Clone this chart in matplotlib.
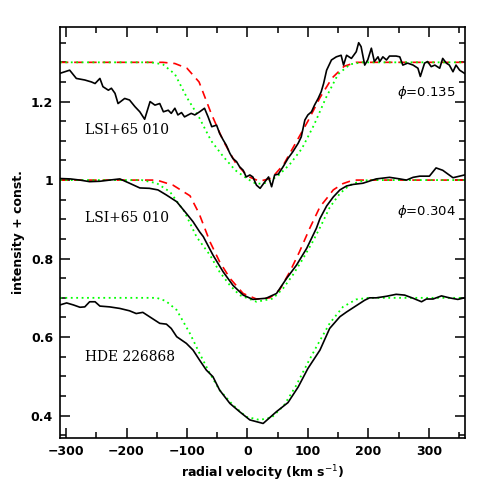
import matplotlib
matplotlib.use("Agg")
import matplotlib.pyplot as plt
from matplotlib.ticker import MultipleLocator

# ---- phase 0.135 (offset +0.3) ----
v_obs1 = [-310, -294, -283, -269, -258, -252, -244, -239, -230, -225, -219, -214, -203, -195, -186, -178, -170,
          -161, -153, -145, -139, -131, -126, -120, -115, -109, -104, -98, -93, -87, -79, -71, -65, -59, -51,
          -46, -40, -35, -29, -24, -18, -13, -7, -2, 4, 9, 15, 21, 29, 35, 40, 45, 51, 59, 67, 75, 84, 89, 95,
          100, 106, 111, 117, 122, 126, 131, 139, 147, 155, 159, 164, 172, 180, 184, 188, 194, 199, 205, 210,
          216, 219, 224, 230, 235, 246, 252, 257, 265, 274, 282, 286, 293, 298, 304, 310, 318, 323, 329, 334,
          340, 345, 351, 359]
i_obs1 = [1.272, 1.280, 1.259, 1.255, 1.250, 1.246, 1.259, 1.238, 1.229, 1.234, 1.221, 1.195, 1.208, 1.204,
          1.187, 1.174, 1.155, 1.200, 1.191, 1.195, 1.174, 1.178, 1.170, 1.183, 1.166, 1.172, 1.161, 1.166,
          1.170, 1.166, 1.174, 1.183, 1.161, 1.136, 1.140, 1.119, 1.102, 1.089, 1.068, 1.055, 1.047, 1.034,
          1.025, 1.008, 1.013, 1.008, 0.987, 0.979, 0.996, 1.008, 0.983, 1.013, 1.015, 1.034, 1.055, 1.072,
          1.094, 1.110, 1.153, 1.166, 1.174, 1.191, 1.208, 1.225, 1.246, 1.280, 1.306, 1.314, 1.318, 1.293,
          1.318, 1.310, 1.327, 1.350, 1.340, 1.293, 1.306, 1.336, 1.302, 1.314, 1.302, 1.314, 1.306, 1.316,
          1.316, 1.314, 1.293, 1.298, 1.293, 1.285, 1.264, 1.298, 1.302, 1.289, 1.293, 1.285, 1.310, 1.298,
          1.293, 1.276, 1.293, 1.280, 1.272]
v_grn1 = [-310, -160, -140, -120, -100, -80, -60, -40, -20, 0, 15, 30, 50, 70, 90, 110, 130, 150, 170, 190, 360]
i_grn1 = [1.3, 1.3, 1.295, 1.27, 1.21, 1.16, 1.10, 1.06, 1.025, 1.003, 0.99, 0.993, 1.01, 1.04, 1.08, 1.14,
          1.21, 1.27, 1.295, 1.3, 1.3]
v_red1 = [-310, -140, -120, -100, -80, -60, -40, -20, 0, 20, 40, 60, 80, 100, 120, 140, 160, 180, 360]
i_red1 = [1.3, 1.3, 1.297, 1.285, 1.25, 1.17, 1.10, 1.045, 1.01, 0.997, 1.005, 1.04, 1.095, 1.15, 1.21, 1.26,
          1.29, 1.3, 1.3]

# ---- phase 0.304 (no offset) ----
v_obs2 = [-310, -293, -277, -261, -244, -228, -211, -195, -178, -162, -148, -134, -117, -101, -90, -79, -73,
          -57, -40, -24, -7, 9, 31, 48, 65, 81, 98, 114, 120, 131, 142, 153, 164, 175, 191, 213, 235, 252, 263,
          274, 285, 301, 312, 323, 340, 359]
i_obs2 = [1.004, 1.003, 1.000, 0.996, 0.997, 1.000, 1.003, 0.992, 0.980, 0.979, 0.975, 0.962, 0.945, 0.915,
          0.894, 0.868, 0.856, 0.809, 0.766, 0.732, 0.707, 0.696, 0.699, 0.711, 0.750, 0.783, 0.826, 0.877,
          0.902, 0.934, 0.957, 0.975, 0.985, 0.989, 0.992, 1.003, 1.007, 1.003, 1.000, 1.007, 1.010, 1.010,
          1.031, 1.025, 1.006, 1.013]
v_grn2 = [-310, -175, -150, -128, -104, -84, -62, -46, -29, -13, 15, 42, 59, 75, 92, 108, 122, 136, 153, 169,
          186, 200, 360]
i_grn2 = [1.0, 1.0, 0.992, 0.97, 0.919, 0.855, 0.809, 0.766, 0.732, 0.707, 0.690, 0.698, 0.724, 0.758, 0.800,
          0.843, 0.885, 0.930, 0.966, 0.987, 0.997, 1.0, 1.0]
v_red2 = [-310, -150, -123, -95, -80, -62, -46, -29, -7, 15, 37, 53, 70, 86, 103, 120, 131, 142, 158, 175, 360]
i_red2 = [1.0, 1.0, 0.987, 0.96, 0.915, 0.843, 0.792, 0.750, 0.711, 0.697, 0.700, 0.720, 0.766, 0.817, 0.877,
          0.932, 0.953, 0.975, 0.991, 1.0, 1.0]

# ---- HDE 226868 (offset -0.3) ----
v_obs3 = [-310, -299, -288, -277, -269, -261, -252, -244, -228, -211, -195, -184, -173, -162, -145, -134, -126,
          -117, -101, -90, -79, -68, -57, -46, -29, -13, 4, 26, 48, 67, 84, 100, 120, 136, 153, 164, 177, 194,
          202, 213, 230, 246, 260, 274, 288, 296, 307, 321, 334, 348, 359]
i_obs3 = [0.682, 0.687, 0.682, 0.676, 0.677, 0.690, 0.690, 0.679, 0.677, 0.673, 0.667, 0.660, 0.663, 0.652,
          0.635, 0.633, 0.622, 0.601, 0.584, 0.567, 0.541, 0.516, 0.499, 0.465, 0.431, 0.410, 0.389, 0.380,
          0.410, 0.433, 0.473, 0.520, 0.567, 0.622, 0.652, 0.664, 0.677, 0.694, 0.700, 0.700, 0.704, 0.709,
          0.707, 0.699, 0.690, 0.697, 0.697, 0.705, 0.700, 0.696, 0.700]
v_grn3 = [-310, -150, -135, -117, -95, -79, -62, -46, -24, -2, 20, 40, 60, 80, 100, 114, 136, 158, 180, 200, 360]
i_grn3 = [0.70, 0.70, 0.692, 0.669, 0.609, 0.558, 0.507, 0.465, 0.427, 0.397, 0.389, 0.395, 0.425, 0.475,
          0.535, 0.575, 0.635, 0.677, 0.696, 0.70, 0.70]

star_labels = ["LSI+65 010", "LSI+65 010", "HDE 226868"]
phase_labels = [r"$\phi$=0.135", r"$\phi$=0.304"]

fig = plt.figure(figsize=(4.91, 4.91), dpi=100)
ax = fig.add_axes([0.1222, 0.108, 0.825, 0.837])

lw = 1.2
for vv, ii in [(v_obs1, i_obs1), (v_obs2, i_obs2), (v_obs3, i_obs3)]:
    ax.plot(vv, ii, color="black", lw=lw, zorder=3)
for vv, ii in [(v_red1, i_red1), (v_red2, i_red2)]:
    ax.plot(vv, ii, color="#ff0000", lw=1.2, ls=(0, (5, 3.5)), zorder=2)
for vv, ii in [(v_grn1, i_grn1), (v_grn2, i_grn2), (v_grn3, i_grn3)]:
    ax.plot(vv, ii, color="#00ff00", lw=1.3, ls=(0, (1, 2)), zorder=2)

ax.set_xlim(-310, 360)
ax.set_ylim(0.343, 1.39)

tfont = dict(family="DejaVu Serif", fontsize=10)
ax.text(-269, 1.127, star_labels[0], va="center", ha="left", **tfont)
ax.text(-269, 0.903, star_labels[1], va="center", ha="left", **tfont)
ax.text(-269, 0.55, star_labels[2], va="center", ha="left", **tfont)
ax.text(248, 1.224, phase_labels[0], va="center", ha="left", fontsize=9.5)
ax.text(248, 0.921, phase_labels[1], va="center", ha="left", fontsize=9.5)

ax.xaxis.set_major_locator(MultipleLocator(100))
ax.xaxis.set_minor_locator(MultipleLocator(50))
ax.yaxis.set_major_locator(MultipleLocator(0.2))
ax.yaxis.set_minor_locator(MultipleLocator(0.05))
ax.set_yticks([0.4, 0.6, 0.8, 1.0, 1.2])
ax.set_yticklabels(["0.4", "0.6", "0.8", "1", "1.2"])
ax.tick_params(which="both", direction="in", top=True, right=True, width=1.1, labelsize=9)
ax.tick_params(which="major", length=7, pad=5)
ax.tick_params(which="minor", length=4)
for lab in ax.get_xticklabels() + ax.get_yticklabels():
    lab.set_fontweight("bold")
for s in ax.spines.values():
    s.set_linewidth(1.2)

ax.set_xlabel(r"radial velocity (km s$^{-1}$)", fontsize=9, fontweight="bold")
ax.set_ylabel("intensity + const.", fontsize=9, fontweight="bold")

fig.savefig("out.png", dpi=100)
